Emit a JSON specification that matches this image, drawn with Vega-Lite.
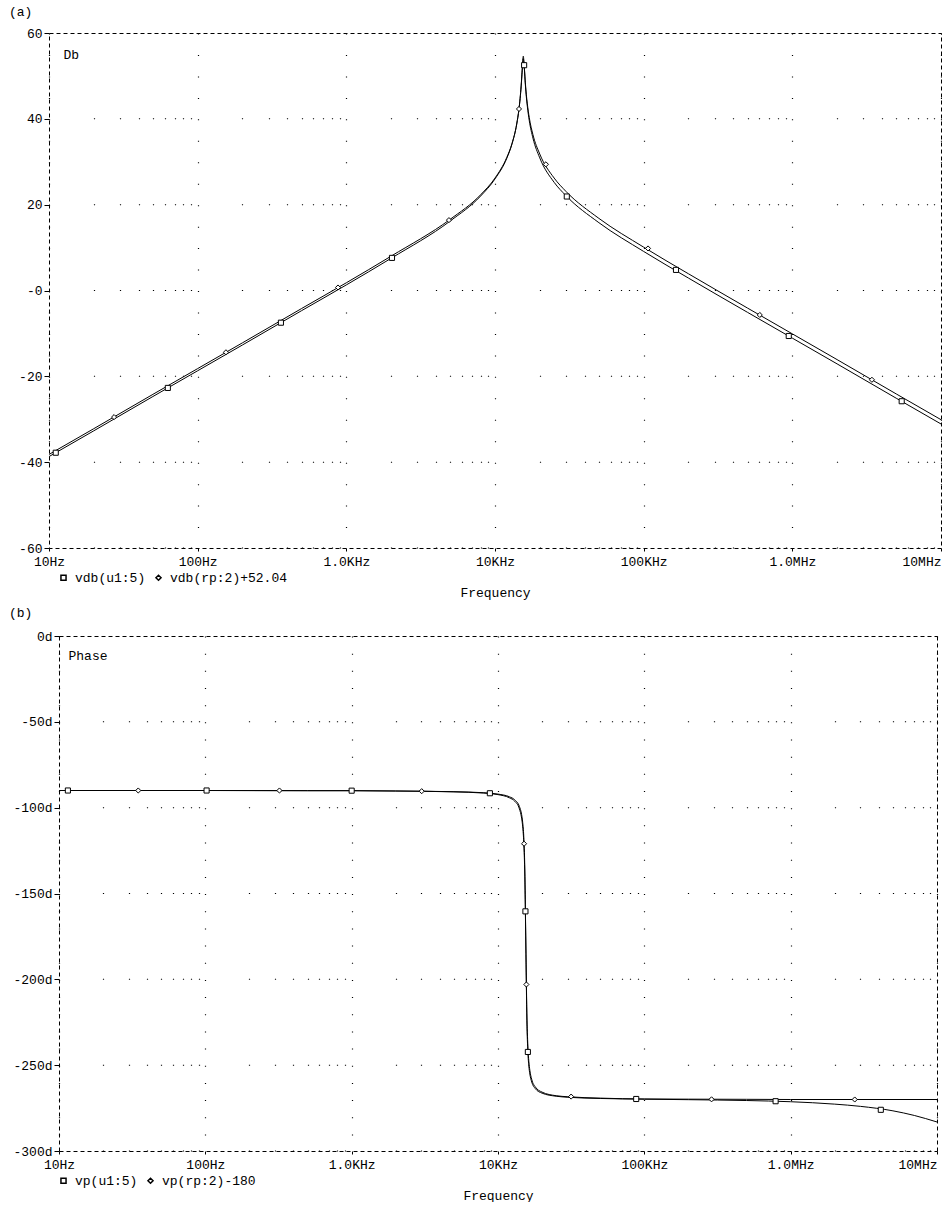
{
  "$schema": "https://vega.github.io/schema/vega-lite/v6.json",
  "background": "white",
  "padding": {"left": 0, "top": 5, "right": 1, "bottom": 0},
  "spacing": 7,
  "config": {
    "font": "Liberation Mono",
    "view": {"stroke": "#000", "strokeDash": [4, 3], "strokeWidth": 1},
    "axis": {
      "labelFont": "Liberation Mono", "labelFontSize": 13, "labelColor": "#000",
      "titleFont": "Liberation Mono", "titleFontSize": 13, "titleFontWeight": "normal", "titleColor": "#000",
      "tickColor": "#000", "gridColor": "#000", "gridOpacity": 1,
      "domainColor": "#000", "domainDash": [4, 3], "domainWidth": 1
    },
    "title": {"font": "Liberation Mono", "fontSize": 13, "fontWeight": "normal", "color": "#000", "anchor": "start", "frame": "group"},
    "legend": {"labelFont": "Liberation Mono", "labelFontSize": 13, "labelColor": "#000"}
  },
  "resolve": {"scale": {"shape": "independent"}, "legend": {"shape": "independent"}},
  "datasets": {
    "magLines": [
      {"freq": 10, "db": -38.7, "series": "vdb(u1:5)"},
      {"freq": 20, "db": -32.7, "series": "vdb(u1:5)"},
      {"freq": 50, "db": -24.7, "series": "vdb(u1:5)"},
      {"freq": 100, "db": -18.7, "series": "vdb(u1:5)"},
      {"freq": 200, "db": -12.7, "series": "vdb(u1:5)"},
      {"freq": 500, "db": -4.7, "series": "vdb(u1:5)"},
      {"freq": 1000, "db": 1.3, "series": "vdb(u1:5)"},
      {"freq": 2000, "db": 7.5, "series": "vdb(u1:5)"},
      {"freq": 5000, "db": 16.2, "series": "vdb(u1:5)"},
      {"freq": 8000, "db": 22.0, "series": "vdb(u1:5)"},
      {"freq": 10000, "db": 26.0, "series": "vdb(u1:5)"},
      {"freq": 12000, "db": 30.8, "series": "vdb(u1:5)"},
      {"freq": 13000, "db": 34.1, "series": "vdb(u1:5)"},
      {"freq": 14000, "db": 38.8, "series": "vdb(u1:5)"},
      {"freq": 14500, "db": 42.3, "series": "vdb(u1:5)"},
      {"freq": 14750, "db": 44.7, "series": "vdb(u1:5)"},
      {"freq": 15000, "db": 47.8, "series": "vdb(u1:5)"},
      {"freq": 15250, "db": 51.7, "series": "vdb(u1:5)"},
      {"freq": 15500, "db": 54.6, "series": "vdb(u1:5)"},
      {"freq": 15750, "db": 51.8, "series": "vdb(u1:5)"},
      {"freq": 16000, "db": 48.0, "series": "vdb(u1:5)"},
      {"freq": 16250, "db": 45.1, "series": "vdb(u1:5)"},
      {"freq": 16500, "db": 42.9, "series": "vdb(u1:5)"},
      {"freq": 17000, "db": 39.6, "series": "vdb(u1:5)"},
      {"freq": 18000, "db": 35.5, "series": "vdb(u1:5)"},
      {"freq": 20000, "db": 30.9, "series": "vdb(u1:5)"},
      {"freq": 25000, "db": 25.2, "series": "vdb(u1:5)"},
      {"freq": 30000, "db": 22.1, "series": "vdb(u1:5)"},
      {"freq": 50000, "db": 15.8, "series": "vdb(u1:5)"},
      {"freq": 100000, "db": 9.1, "series": "vdb(u1:5)"},
      {"freq": 200000, "db": 2.9, "series": "vdb(u1:5)"},
      {"freq": 500000, "db": -5.1, "series": "vdb(u1:5)"},
      {"freq": 1000000, "db": -11.1, "series": "vdb(u1:5)"},
      {"freq": 2000000, "db": -17.1, "series": "vdb(u1:5)"},
      {"freq": 5000000, "db": -25.1, "series": "vdb(u1:5)"},
      {"freq": 10000000, "db": -31.1, "series": "vdb(u1:5)"},
      {"freq": 10, "db": -38.2, "series": "vdb(rp:2)+52.04"},
      {"freq": 20, "db": -32.2, "series": "vdb(rp:2)+52.04"},
      {"freq": 50, "db": -24.2, "series": "vdb(rp:2)+52.04"},
      {"freq": 100, "db": -18.2, "series": "vdb(rp:2)+52.04"},
      {"freq": 200, "db": -12.2, "series": "vdb(rp:2)+52.04"},
      {"freq": 500, "db": -4.2, "series": "vdb(rp:2)+52.04"},
      {"freq": 1000, "db": 1.8, "series": "vdb(rp:2)+52.04"},
      {"freq": 2000, "db": 8.0, "series": "vdb(rp:2)+52.04"},
      {"freq": 5000, "db": 16.6, "series": "vdb(rp:2)+52.04"},
      {"freq": 8000, "db": 22.3, "series": "vdb(rp:2)+52.04"},
      {"freq": 10000, "db": 26.2, "series": "vdb(rp:2)+52.04"},
      {"freq": 12000, "db": 31.0, "series": "vdb(rp:2)+52.04"},
      {"freq": 13000, "db": 34.2, "series": "vdb(rp:2)+52.04"},
      {"freq": 14000, "db": 38.8, "series": "vdb(rp:2)+52.04"},
      {"freq": 14500, "db": 42.3, "series": "vdb(rp:2)+52.04"},
      {"freq": 14750, "db": 44.7, "series": "vdb(rp:2)+52.04"},
      {"freq": 15000, "db": 47.6, "series": "vdb(rp:2)+52.04"},
      {"freq": 15250, "db": 51.2, "series": "vdb(rp:2)+52.04"},
      {"freq": 15500, "db": 54.0, "series": "vdb(rp:2)+52.04"},
      {"freq": 15750, "db": 51.9, "series": "vdb(rp:2)+52.04"},
      {"freq": 16000, "db": 48.4, "series": "vdb(rp:2)+52.04"},
      {"freq": 16250, "db": 45.6, "series": "vdb(rp:2)+52.04"},
      {"freq": 16500, "db": 43.5, "series": "vdb(rp:2)+52.04"},
      {"freq": 17000, "db": 40.3, "series": "vdb(rp:2)+52.04"},
      {"freq": 18000, "db": 36.3, "series": "vdb(rp:2)+52.04"},
      {"freq": 20000, "db": 31.8, "series": "vdb(rp:2)+52.04"},
      {"freq": 25000, "db": 26.2, "series": "vdb(rp:2)+52.04"},
      {"freq": 30000, "db": 23.1, "series": "vdb(rp:2)+52.04"},
      {"freq": 50000, "db": 16.8, "series": "vdb(rp:2)+52.04"},
      {"freq": 100000, "db": 10.1, "series": "vdb(rp:2)+52.04"},
      {"freq": 200000, "db": 3.9, "series": "vdb(rp:2)+52.04"},
      {"freq": 500000, "db": -4.1, "series": "vdb(rp:2)+52.04"},
      {"freq": 1000000, "db": -10.1, "series": "vdb(rp:2)+52.04"},
      {"freq": 2000000, "db": -16.1, "series": "vdb(rp:2)+52.04"},
      {"freq": 5000000, "db": -24.1, "series": "vdb(rp:2)+52.04"},
      {"freq": 10000000, "db": -30.1, "series": "vdb(rp:2)+52.04"}
    ],
    "magMarks": [
      {"freq": 11.1, "db": -37.8, "series": "vdb(u1:5)"},
      {"freq": 63, "db": -22.7, "series": "vdb(u1:5)"},
      {"freq": 363, "db": -7.5, "series": "vdb(u1:5)"},
      {"freq": 2028, "db": 7.6, "series": "vdb(u1:5)"},
      {"freq": 15700, "db": 52.5, "series": "vdb(u1:5)"},
      {"freq": 30400, "db": 21.9, "series": "vdb(u1:5)"},
      {"freq": 165000, "db": 4.8, "series": "vdb(u1:5)"},
      {"freq": 946000, "db": -10.6, "series": "vdb(u1:5)"},
      {"freq": 5440000, "db": -25.8, "series": "vdb(u1:5)"},
      {"freq": 27.4, "db": -29.5, "series": "vdb(rp:2)+52.04"},
      {"freq": 155, "db": -14.4, "series": "vdb(rp:2)+52.04"},
      {"freq": 879, "db": 0.7, "series": "vdb(rp:2)+52.04"},
      {"freq": 4900, "db": 16.4, "series": "vdb(rp:2)+52.04"},
      {"freq": 14500, "db": 42.3, "series": "vdb(rp:2)+52.04"},
      {"freq": 22000, "db": 29.4, "series": "vdb(rp:2)+52.04"},
      {"freq": 107000, "db": 9.8, "series": "vdb(rp:2)+52.04"},
      {"freq": 604000, "db": -5.7, "series": "vdb(rp:2)+52.04"},
      {"freq": 3430000, "db": -20.8, "series": "vdb(rp:2)+52.04"}
    ],
    "phLines": [
      {"freq": 10, "deg": -90.0, "series": "vp(u1:5)"},
      {"freq": 100, "deg": -90.0, "series": "vp(u1:5)"},
      {"freq": 500, "deg": -90.1, "series": "vp(u1:5)"},
      {"freq": 1000, "deg": -90.1, "series": "vp(u1:5)"},
      {"freq": 2000, "deg": -90.3, "series": "vp(u1:5)"},
      {"freq": 5000, "deg": -90.7, "series": "vp(u1:5)"},
      {"freq": 8000, "deg": -91.3, "series": "vp(u1:5)"},
      {"freq": 10000, "deg": -92.1, "series": "vp(u1:5)"},
      {"freq": 12000, "deg": -93.7, "series": "vp(u1:5)"},
      {"freq": 13000, "deg": -95.4, "series": "vp(u1:5)"},
      {"freq": 14000, "deg": -99.3, "series": "vp(u1:5)"},
      {"freq": 14500, "deg": -104.0, "series": "vp(u1:5)"},
      {"freq": 14750, "deg": -108.6, "series": "vp(u1:5)"},
      {"freq": 15000, "deg": -116.9, "series": "vp(u1:5)"},
      {"freq": 15250, "deg": -135.7, "series": "vp(u1:5)"},
      {"freq": 15500, "deg": -180.0, "series": "vp(u1:5)"},
      {"freq": 15750, "deg": -223.8, "series": "vp(u1:5)"},
      {"freq": 16000, "deg": -242.3, "series": "vp(u1:5)"},
      {"freq": 16250, "deg": -250.6, "series": "vp(u1:5)"},
      {"freq": 16500, "deg": -255.1, "series": "vp(u1:5)"},
      {"freq": 17000, "deg": -259.8, "series": "vp(u1:5)"},
      {"freq": 18000, "deg": -263.7, "series": "vp(u1:5)"},
      {"freq": 20000, "deg": -266.3, "series": "vp(u1:5)"},
      {"freq": 25000, "deg": -268.1, "series": "vp(u1:5)"},
      {"freq": 30000, "deg": -268.7, "series": "vp(u1:5)"},
      {"freq": 50000, "deg": -269.4, "series": "vp(u1:5)"},
      {"freq": 100000, "deg": -269.8, "series": "vp(u1:5)"},
      {"freq": 200000, "deg": -270.1, "series": "vp(u1:5)"},
      {"freq": 500000, "deg": -270.6, "series": "vp(u1:5)"},
      {"freq": 1000000, "deg": -271.3, "series": "vp(u1:5)"},
      {"freq": 2000000, "deg": -272.7, "series": "vp(u1:5)"},
      {"freq": 3000000, "deg": -274.0, "series": "vp(u1:5)"},
      {"freq": 5000000, "deg": -276.6, "series": "vp(u1:5)"},
      {"freq": 7000000, "deg": -279.3, "series": "vp(u1:5)"},
      {"freq": 10000000, "deg": -283.1, "series": "vp(u1:5)"},
      {"freq": 10, "deg": -90.0, "series": "vp(rp:2)-180"},
      {"freq": 100, "deg": -90.0, "series": "vp(rp:2)-180"},
      {"freq": 500, "deg": -90.1, "series": "vp(rp:2)-180"},
      {"freq": 1000, "deg": -90.1, "series": "vp(rp:2)-180"},
      {"freq": 2000, "deg": -90.3, "series": "vp(rp:2)-180"},
      {"freq": 5000, "deg": -90.8, "series": "vp(rp:2)-180"},
      {"freq": 8000, "deg": -91.5, "series": "vp(rp:2)-180"},
      {"freq": 10000, "deg": -92.4, "series": "vp(rp:2)-180"},
      {"freq": 12000, "deg": -94.3, "series": "vp(rp:2)-180"},
      {"freq": 13000, "deg": -96.2, "series": "vp(rp:2)-180"},
      {"freq": 14000, "deg": -100.7, "series": "vp(rp:2)-180"},
      {"freq": 14500, "deg": -106.1, "series": "vp(rp:2)-180"},
      {"freq": 14750, "deg": -111.2, "series": "vp(rp:2)-180"},
      {"freq": 15000, "deg": -120.4, "series": "vp(rp:2)-180"},
      {"freq": 15250, "deg": -139.8, "series": "vp(rp:2)-180"},
      {"freq": 15500, "deg": -180.0, "series": "vp(rp:2)-180"},
      {"freq": 15750, "deg": -219.7, "series": "vp(rp:2)-180"},
      {"freq": 16000, "deg": -238.8, "series": "vp(rp:2)-180"},
      {"freq": 16250, "deg": -247.9, "series": "vp(rp:2)-180"},
      {"freq": 16500, "deg": -252.9, "series": "vp(rp:2)-180"},
      {"freq": 17000, "deg": -258.3, "series": "vp(rp:2)-180"},
      {"freq": 18000, "deg": -262.7, "series": "vp(rp:2)-180"},
      {"freq": 20000, "deg": -265.7, "series": "vp(rp:2)-180"},
      {"freq": 25000, "deg": -267.8, "series": "vp(rp:2)-180"},
      {"freq": 30000, "deg": -268.4, "series": "vp(rp:2)-180"},
      {"freq": 50000, "deg": -269.2, "series": "vp(rp:2)-180"},
      {"freq": 100000, "deg": -269.7, "series": "vp(rp:2)-180"},
      {"freq": 200000, "deg": -269.8, "series": "vp(rp:2)-180"},
      {"freq": 500000, "deg": -269.9, "series": "vp(rp:2)-180"},
      {"freq": 1000000, "deg": -270.0, "series": "vp(rp:2)-180"},
      {"freq": 10000000, "deg": -270.0, "series": "vp(rp:2)-180"}
    ],
    "phMarks": [
      {"freq": 11.5, "deg": -90.0, "series": "vp(u1:5)"},
      {"freq": 102, "deg": -90.0, "series": "vp(u1:5)"},
      {"freq": 1000, "deg": -90.1, "series": "vp(u1:5)"},
      {"freq": 8800, "deg": -91.6, "series": "vp(u1:5)"},
      {"freq": 15400, "deg": -160.4, "series": "vp(u1:5)"},
      {"freq": 16000, "deg": -242.3, "series": "vp(u1:5)"},
      {"freq": 88000, "deg": -269.7, "series": "vp(u1:5)"},
      {"freq": 789000, "deg": -271.0, "series": "vp(u1:5)"},
      {"freq": 4130000, "deg": -276.0, "series": "vp(u1:5)"},
      {"freq": 34.8, "deg": -90.0, "series": "vp(rp:2)-180"},
      {"freq": 321, "deg": -90.0, "series": "vp(rp:2)-180"},
      {"freq": 3010, "deg": -90.4, "series": "vp(rp:2)-180"},
      {"freq": 15070, "deg": -121.0, "series": "vp(rp:2)-180"},
      {"freq": 15630, "deg": -203.0, "series": "vp(rp:2)-180"},
      {"freq": 31600, "deg": -268.3, "series": "vp(rp:2)-180"},
      {"freq": 288000, "deg": -269.9, "series": "vp(rp:2)-180"},
      {"freq": 2740000, "deg": -270.0, "series": "vp(rp:2)-180"}
    ]
  },
  "vconcat": [
    {
      "title": {"text": "(a)", "dx": -40, "offset": 8},
      "width": 892,
      "height": 515,
      "resolve": {"axis": {"x": "independent"}},
      "layer": [
        {
          "data": {"name": "magLines"},
          "mark": {"type": "line", "color": "#000", "strokeWidth": 1, "interpolate": "monotone"},
          "encoding": {
            "x": {"field": "freq", "type": "quantitative",
              "scale": {"type": "log", "domain": [10, 10000000], "nice": false},
              "axis": {"orient": "bottom", "values": [10, 100, 1000, 10000, 100000, 1000000, 10000000],
                "labelExpr": "datum.value == 10 ? '10Hz' : datum.value == 100 ? '100Hz' : datum.value == 1000 ? '1.0KHz' : datum.value == 10000 ? '10KHz' : datum.value == 100000 ? '100KHz' : datum.value == 1000000 ? '1.0MHz' : '10MHz'",
                "labelAlign": {"condition": {"test": "datum.value >= 10000000", "value": "right"}, "value": "center"},
                "domain": false, "tickSize": 3, "labelPadding": 4, "labelFlush": false,
                "grid": true, "gridDash": [1, 20.46], "gridWidth": 1.2,
                "title": "Frequency", "titlePadding": 18}},
            "y": {"field": "db", "type": "quantitative",
              "scale": {"domain": [-60, 60], "nice": false, "zero": false},
              "axis": {"values": [-60, -40, -20, 0, 20, 40, 60],
                "labelExpr": "datum.value == 0 ? '-0' : '' + datum.value",
                "domain": false, "grid": false, "tickSize": 5, "labelPadding": 2, "minExtent": 48,
                "title": "Db", "titleAngle": 0, "titleX": 14, "titleY": 25, "titleAlign": "left", "titleBaseline": "alphabetic"}},
            "detail": {"field": "series"}
          }
        },
        {
          "data": {"name": "magMarks"},
          "mark": {"type": "point", "filled": true, "fill": "#fff", "stroke": "#000", "strokeWidth": 1, "size": 26, "opacity": 1},
          "encoding": {
            "x": {"field": "freq", "type": "quantitative",
              "scale": {"type": "log", "domain": [10, 10000000], "nice": false},
              "axis": {"orient": "top", "values": [20, 30, 40, 50, 60, 70, 80, 90, 200, 300, 400, 500, 600, 700, 800, 900, 2000, 3000, 4000, 5000, 6000, 7000, 8000, 9000, 20000, 30000, 40000, 50000, 60000, 70000, 80000, 90000, 200000, 300000, 400000, 500000, 600000, 700000, 800000, 900000, 2000000, 3000000, 4000000, 5000000, 6000000, 7000000, 8000000, 9000000],
                "labels": false, "ticks": false, "domain": false, "title": null,
                "grid": true, "gridDash": [1, 84.83], "gridWidth": 1.2}},
            "y": {"field": "db", "type": "quantitative",
              "scale": {"domain": [-60, 60], "nice": false, "zero": false},
              "axis": {"values": [-60, -40, -20, 0, 20, 40, 60],
                "labelExpr": "datum.value == 0 ? '-0' : '' + datum.value",
                "domain": false, "grid": false, "tickSize": 5, "labelPadding": 2, "minExtent": 48,
                "title": "Db", "titleAngle": 0, "titleX": 14, "titleY": 25, "titleAlign": "left", "titleBaseline": "alphabetic"}},
            "shape": {"field": "series", "type": "nominal",
              "scale": {"domain": ["vdb(u1:5)", "vdb(rp:2)+52.04"], "range": ["square", "diamond"]},
              "legend": {"orient": "none", "legendX": 8, "legendY": 538, "direction": "horizontal", "title": null,
                "symbolSize": 26, "columnPadding": 6, "labelOffset": 5, "padding": 0,
                "encode": {"symbols": {"update": {"stroke": {"value": "#000"}, "fill": {"value": "#fff"}, "strokeWidth": {"value": 1}, "opacity": {"value": 1}}}}}}
          }
        }
      ]
    },
    {
      "title": {"text": "(b)", "dx": -40, "offset": 10},
      "width": 888,
      "height": 515,
      "view": {"stroke": null},
      "resolve": {"axis": {"x": "independent", "y": "independent"}},
      "layer": [
        {
          "data": {"name": "phLines"},
          "mark": {"type": "line", "color": "#000", "strokeWidth": 1, "interpolate": "monotone"},
          "encoding": {
            "x": {"field": "freq", "type": "quantitative",
              "scale": {"type": "log", "domain": [10, 10000000], "nice": false, "range": [10, 888]},
              "axis": {"orient": "bottom", "values": [10, 100, 1000, 10000, 100000, 1000000, 10000000],
                "labelExpr": "datum.value == 10 ? '10Hz' : datum.value == 100 ? '100Hz' : datum.value == 1000 ? '1.0KHz' : datum.value == 10000 ? '10KHz' : datum.value == 100000 ? '100KHz' : datum.value == 1000000 ? '1.0MHz' : '10MHz'",
                "labelAlign": {"condition": {"test": "datum.value >= 10000000", "value": "right"}, "value": "center"},
                "domain": true, "tickSize": 3, "labelPadding": 4, "labelFlush": false,
                "grid": true, "gridDash": [1, 16.17], "gridWidth": 1.2,
                "title": "Frequency", "titlePadding": 18}},
            "y": {"field": "deg", "type": "quantitative",
              "scale": {"domain": [-300, 0], "nice": false, "zero": false},
              "axis": {"orient": "left", "offset": -10, "values": [-300, -250, -200, -150, -100, -50, 0],
                "labelExpr": "datum.value + 'd'",
                "domain": true, "grid": false, "tickSize": 5, "labelPadding": 2,
                "title": "Phase", "titleAngle": 0, "titleX": 9, "titleY": 23, "titleAlign": "left", "titleBaseline": "alphabetic"}},
            "detail": {"field": "series"}
          }
        },
        {
          "data": {"name": "phMarks"},
          "mark": {"type": "point", "filled": true, "fill": "#fff", "stroke": "#000", "strokeWidth": 1, "size": 26, "opacity": 1},
          "encoding": {
            "x": {"field": "freq", "type": "quantitative",
              "scale": {"type": "log", "domain": [10, 10000000], "nice": false, "range": [10, 888]},
              "axis": {"orient": "top", "values": [20, 30, 40, 50, 60, 70, 80, 90, 200, 300, 400, 500, 600, 700, 800, 900, 2000, 3000, 4000, 5000, 6000, 7000, 8000, 9000, 20000, 30000, 40000, 50000, 60000, 70000, 80000, 90000, 200000, 300000, 400000, 500000, 600000, 700000, 800000, 900000, 2000000, 3000000, 4000000, 5000000, 6000000, 7000000, 8000000, 9000000],
                "labels": false, "ticks": false, "domain": true, "title": null,
                "grid": true, "gridDash": [1, 84.83], "gridWidth": 1.2}},
            "y": {"field": "deg", "type": "quantitative",
              "scale": {"domain": [-300, 0], "nice": false, "zero": false},
              "axis": {"orient": "right", "labels": false, "ticks": false, "domain": true, "grid": false, "title": null}},
            "shape": {"field": "series", "type": "nominal",
              "scale": {"domain": ["vp(u1:5)", "vp(rp:2)-180"], "range": ["square", "diamond"]},
              "legend": {"orient": "none", "legendX": 8, "legendY": 538, "direction": "horizontal", "title": null,
                "symbolSize": 26, "columnPadding": 6, "labelOffset": 5, "padding": 0,
                "encode": {"symbols": {"update": {"stroke": {"value": "#000"}, "fill": {"value": "#fff"}, "strokeWidth": {"value": 1}, "opacity": {"value": 1}}}}}}
          }
        }
      ]
    }
  ]
}
